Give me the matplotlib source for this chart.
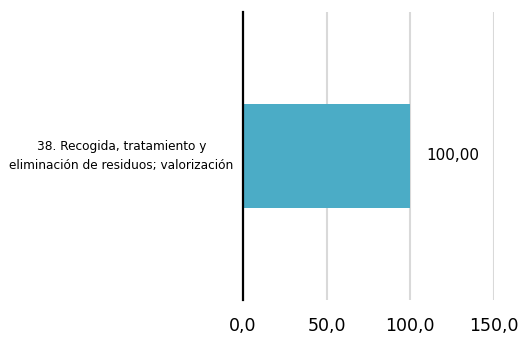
import matplotlib.pyplot as plt

# Chart data
categories = ['38. Recogida, tratamiento y\neliminación de residuos; valorización']
values = [100.0]
x_ticks = [0, 50, 100, 150]
x_tick_labels = ['0,0', '50,0', '100,0', '150,0']

bar_color = '#4BACC6'

fig = plt.figure(figsize=(5.18, 3.37), dpi=100)
ax = fig.add_axes([243 / 518, 1 - 300 / 337, (494 - 243) / 518, (300 - 12) / 337])

ax.barh([0], values, height=0.36, color=bar_color, zorder=3)
ax.set_xlim(0, 150)
ax.set_ylim(-0.5, 0.5)

# Gridlines
ax.grid(axis='x', color='#D9D9D9', linewidth=1.5, zorder=0)
ax.grid(axis='y', visible=False)

for side in ['top', 'right', 'bottom']:
    ax.spines[side].set_visible(False)
ax.spines['left'].set_color('black')
ax.spines['left'].set_linewidth(1.6)
ax.spines['left'].set_zorder(4)

ax.set_xticks(x_ticks)
ax.set_xticklabels(x_tick_labels, fontsize=12.5, family='DejaVu Sans')
ax.tick_params(axis='x', length=0, pad=12)

# Category labels drawn as centered text left of the axis
ax.set_yticks([])
for i, cat in enumerate(categories):
    ax.text(-0.485, i, cat, transform=ax.get_yaxis_transform(), ha='center', va='center',
            fontsize=8.7, family='DejaVu Sans', linespacing=1.6)

# Value label
for i, v in enumerate(values):
    ax.text(v + 9.5, i, f'{v:.2f}'.replace('.', ','), va='center', ha='left',
            fontsize=11, family='DejaVu Sans', color='black')

fig.savefig('out.png', dpi=100)
